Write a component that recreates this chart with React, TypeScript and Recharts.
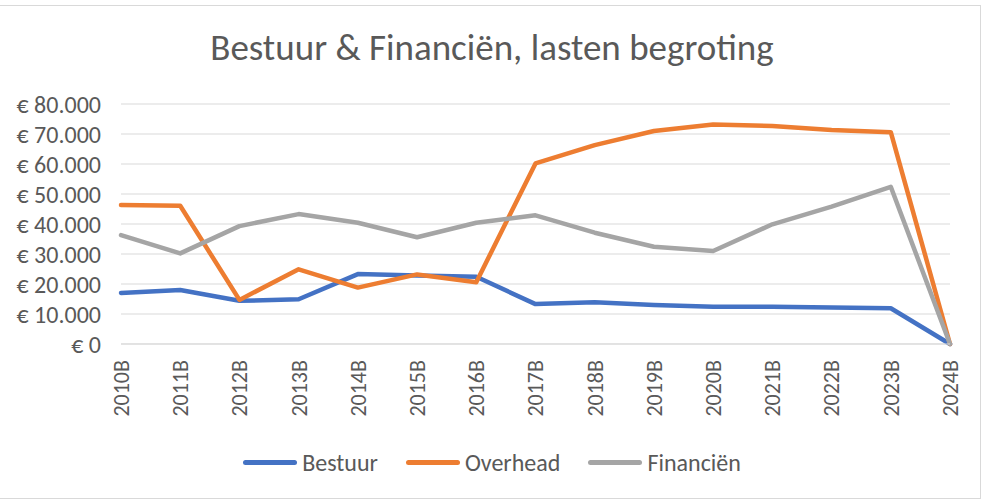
import { LineChart, Line, XAxis, YAxis, CartesianGrid, Legend } from 'recharts';

const categories = [
  '2010B', '2011B', '2012B', '2013B', '2014B', '2015B', '2016B', '2017B',
  '2018B', '2019B', '2020B', '2021B', '2022B', '2023B', '2024B',
];
const bestuur = [17000, 18000, 14400, 14900, 23300, 22800, 22400, 13300, 13900, 13000, 12400, 12400, 12200, 11900, 0];
const overhead = [46300, 46100, 14700, 24900, 18800, 23200, 20600, 60200, 66300, 71000, 73200, 72700, 71300, 70600, 0];
const financien = [36300, 30200, 39300, 43300, 40400, 35600, 40400, 42900, 37100, 32400, 31000, 39900, 45800, 52400, 0];
const yTicks = [0, 10000, 20000, 30000, 40000, 50000, 60000, 70000, 80000];

const SERIES = [
  { key: 'Bestuur', color: '#4472C4' },
  { key: 'Overhead', color: '#ED7D31' },
  { key: 'Financiën', color: '#A5A5A5' },
];

const FONT = 'Carlito, Calibri, Lato, sans-serif';
const TEXT = '#595959';

const data = categories.map((c, i) => ({
  name: c,
  Bestuur: bestuur[i],
  Overhead: overhead[i],
  'Financiën': financien[i],
}));

const fmtEuro = (v: number) => (v === 0 ? '€ 0' : `€ ${v / 1000}.000`);

const XTick = ({ x, y, payload }: any) => (
  <text
    x={x}
    y={y + 8}
    transform={`rotate(-90 ${x} ${y + 8})`}
    textAnchor="end"
    dy="0.36em"
    fill={TEXT}
    fontSize={22}
    fontFamily={FONT}
  >
    {payload.value}
  </text>
);

const LegendContent = () => (
  <div style={{ display: 'flex', justifyContent: 'center', alignItems: 'center', height: 30, width: 984, fontFamily: FONT }}>
    {SERIES.map((s) => (
      <div key={s.key} style={{ display: 'flex', alignItems: 'center', margin: '0 14px' }}>
        <span style={{ display: 'inline-block', width: 54, height: 5, borderRadius: 3, background: s.color, marginRight: 5 }} />
        <span style={{ fontSize: 24, color: TEXT }}>{s.key}</span>
      </div>
    ))}
  </div>
);

export default function App() {
  return (
    <div style={{ position: 'absolute', left: 0, top: 0, width: 989, height: 500, background: '#fff' }}>
      <div style={{ position: 'absolute', left: -1, top: 5, width: 982, height: 494, border: '1.5px solid #d9d9d9', boxSizing: 'border-box' }} />
      <div style={{ position: 'absolute', left: 0, top: 25, width: 984, textAlign: 'center', fontFamily: FONT, fontSize: 37, lineHeight: '46px', color: TEXT }}>
        Bestuur &amp; Financiën, lasten begroting
      </div>
      <LineChart width={989} height={500} data={data} margin={{ top: 104, right: 39, bottom: 23, left: 0 }}>
        <CartesianGrid vertical={false} stroke="#d9d9d9" strokeWidth={1} />
        <XAxis
          dataKey="name"
          interval={0}
          tickLine={false}
          axisLine={{ stroke: '#d9d9d9' }}
          height={103}
          tick={<XTick />}
        />
        <YAxis
          width={121}
          domain={[0, 80000]}
          ticks={yTicks}
          interval={0}
          tickFormatter={fmtEuro}
          tickLine={false}
          axisLine={false}
          tickMargin={14}
          tick={{ fill: TEXT, fontSize: 24, fontFamily: FONT }}
        />
        <Legend verticalAlign="bottom" content={<LegendContent />} wrapperStyle={{ left: 0, height: 30 }} />
        {SERIES.map((s) => (
          <Line
            key={s.key}
            type="linear"
            dataKey={s.key}
            stroke={s.color}
            strokeWidth={4.5}
            strokeLinejoin="round"
            strokeLinecap="round"
            dot={false}
            isAnimationActive={false}
          />
        ))}
      </LineChart>
    </div>
  );
}
